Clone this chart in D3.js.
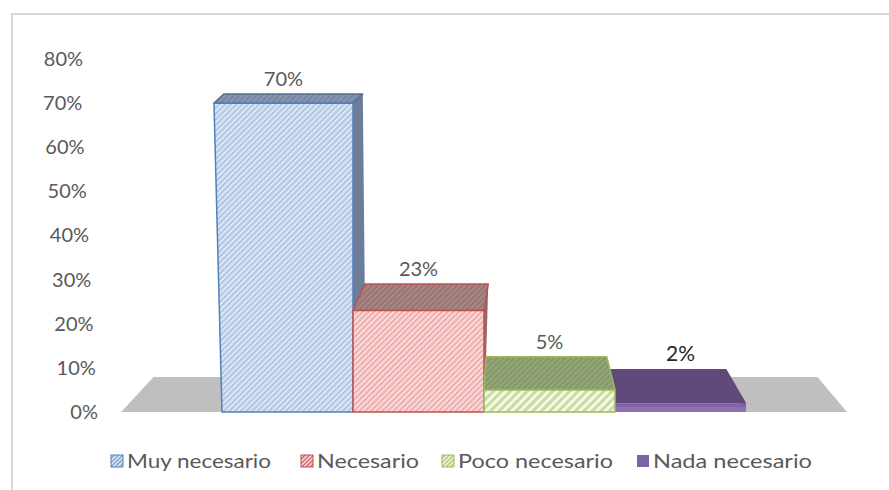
<!DOCTYPE html>
<html>
<head>
<meta charset="utf-8">
<script src="https://cdn.jsdelivr.net/npm/d3@7"></script>
<style>
  html, body { margin: 0; padding: 0; background: #ffffff; }
  svg { display: block; font-family: Lato, "Open Sans", sans-serif; }
</style>
</head>
<body>
<svg id="chart" width="889" height="490"></svg>
<script>
// ---- data ----
const categories = ["Muy necesario", "Necesario", "Poco necesario", "Nada necesario"];
const values = [0.70, 0.23, 0.05, 0.02];
const valueLabels = ["70%", "23%", "5%", "2%"];
const yTicks = [0, 0.1, 0.2, 0.3, 0.4, 0.5, 0.6, 0.7, 0.8];

// ---- styles ----
const styles = [
  { front: "url(#pBlueF)", top: "url(#pBlueT)", side: "#6b7d98", stroke: "#4f81bd", topStroke: "#5b6f8f", swatch: "url(#pBlueS)" },
  { front: "url(#pRedF)",  top: "url(#pRedT)",  side: "#8d6b6a", stroke: "#c0504d", topStroke: "#c0504d", swatch: "url(#pRedS)" },
  { front: "url(#pGreenF)", top: "url(#pGreenT)", side: "#7f9160", stroke: "#9bbb59", topStroke: "#9bbb59", swatch: "url(#pGreenS)" },
  { front: "#8064a2", top: "#604a7b", side: "#574370", stroke: "none", topStroke: "none", swatch: "#7f63a1" }
];

const svg = d3.select("#chart");
const defs = svg.append("defs");
function stripe(id, bg, fg, size, w) {
  const p = defs.append("pattern").attr("id", id)
    .attr("patternUnits", "userSpaceOnUse")
    .attr("width", size).attr("height", size)
    .attr("patternTransform", "rotate(45)");
  p.append("rect").attr("width", size).attr("height", size).attr("fill", bg);
  p.append("rect").attr("width", w).attr("height", size).attr("fill", fg);
}
stripe("pBlueF", "#dde7f3", "#abc3e3", 4, 1.8);
stripe("pBlueT", "#8797b0", "#7384a0", 4, 1.8);
stripe("pRedF", "#f8dcdb", "#eda9a7", 4, 1.8);
stripe("pRedT", "#a88786", "#957372", 4, 1.8);
stripe("pGreenF", "#f4f8ea", "#c9db9f", 6, 3);
stripe("pGreenT", "#94a675", "#82966a", 4, 1.8);
stripe("pBlueS", "#dde7f3", "#6f94c8", 3, 1.2);
stripe("pRedS", "#f8dcdb", "#c0504d", 3, 1.2);
stripe("pGreenS", "#f4f8ea", "#9bbb59", 3, 1.2);

// chart border
svg.append("rect").attr("x", 12).attr("y", 14).attr("width", 900).attr("height", 500)
  .attr("fill", "none").attr("stroke", "#d9d9d9").attr("stroke-width", 2);

// ---- scales ----
const yS = d3.scaleLinear().domain([0, 0.8]).range([412, 59]);
const xS = d3.scaleBand().domain(categories).range([222, 746]).padding(0);
const bw = xS.bandwidth();

// ---- 3D projection helpers ----
const VPX = 502;
const depth = v => 35 - 37 * v;
const conv = v => Math.max(0, 0.085 * (1 - v / 0.7));
const obl = v => 14 * v;
const lean = (x, Y) => x + Math.min(0, x - 352) * (412 - Y) * 0.0002;
function front(x, v) { const Y = yS(v); return [lean(x, Y), Y]; }
function back(x, v) {
  const [X, Y] = front(x, v);
  return [X + obl(v) + conv(v) * (VPX - X), Y - depth(v)];
}
const poly = pts => pts.map(p => p.join(",")).join(" ");

// floor
const fl = xS.range()[0] - 0.77 * bw, fr = xS.range()[1] + 0.77 * bw;
svg.append("polygon")
  .attr("points", poly([front(fl, 0), front(fr, 0), back(fr, 0), back(fl, 0)]))
  .attr("fill", "#bfbfbf");

// ---- y axis ----
const axis = svg.append("g").attr("transform", "translate(98,0)")
  .call(d3.axisLeft(yS).tickValues(yTicks).tickFormat(d3.format(".0%")).tickSize(0).tickPadding(0));
axis.select(".domain").remove();
axis.selectAll(".tick text")
  .attr("fill", "#595959").attr("font-size", 20)
  .attr("font-family", "Lato, 'Open Sans', sans-serif")
  .attr("x", d => lean(98, yS(d)) - 98 + (d === 0.8 ? 3 : 0));

// ---- bars ----
const order = [0, 1, 3, 2];
const barsG = svg.append("g");
order.forEach(i => {
  const c = categories[i], v = values[i], st = styles[i];
  const x0 = xS(c), x1 = x0 + bw;
  const g = barsG.append("g");
  g.append("polygon").attr("points", poly([front(x1, v), back(x1, v), back(x1, 0), front(x1, 0)]))
    .attr("fill", st.side);
  g.append("polygon").attr("points", poly([front(x0, v), back(x0, v), back(x0, 0), front(x0, 0)]))
    .attr("fill", st.side);
  g.append("polygon").attr("points", poly([front(x0, v), front(x1, v), back(x1, v), back(x0, v)]))
    .attr("fill", st.top).attr("stroke", st.topStroke).attr("stroke-width", 1.5)
    .attr("stroke-linejoin", "round");
  g.append("polygon").attr("points", poly([front(x0, 0), front(x1, 0), front(x1, v), front(x0, v)]))
    .attr("fill", st.front).attr("stroke", st.stroke).attr("stroke-width", 1.5);
  if (i === 3) {
    g.append("rect").attr("x", x0).attr("y", yS(0) - 5).attr("width", bw).attr("height", 5)
      .attr("fill", "#8d6fb3");
  }
});

// ---- value labels ----
categories.forEach((c, i) => {
  const v = values[i];
  const x0 = xS(c), x1 = x0 + bw;
  const cx = (front(x0, v)[0] + front(x1, v)[0]) / 2;
  svg.append("text").attr("x", cx).attr("y", back(x0, v)[1] - 8)
    .attr("text-anchor", "middle").attr("font-size", i === 3 ? 21 : 20)
    .attr("fill", i === 3 ? "#262626" : "#595959")
    .text(valueLabels[i]);
});

// ---- legend ----
const legX = [111, 301, 442, 637];
const legW = [144, 102, 155, 159];
const lg = svg.append("g");
categories.forEach((c, i) => {
  lg.append("rect").attr("x", legX[i]).attr("y", 455).attr("width", 12).attr("height", 12)
    .attr("fill", styles[i].swatch)
    .attr("stroke", i === 3 ? "none" : styles[i].stroke).attr("stroke-width", 1);
  lg.append("text").attr("x", legX[i] + 16).attr("y", 468)
    .attr("font-size", 19).attr("fill", "#595959")
    .attr("textLength", legW[i]).attr("lengthAdjust", "spacingAndGlyphs")
    .text(c);
});
</script>
</body>
</html>
